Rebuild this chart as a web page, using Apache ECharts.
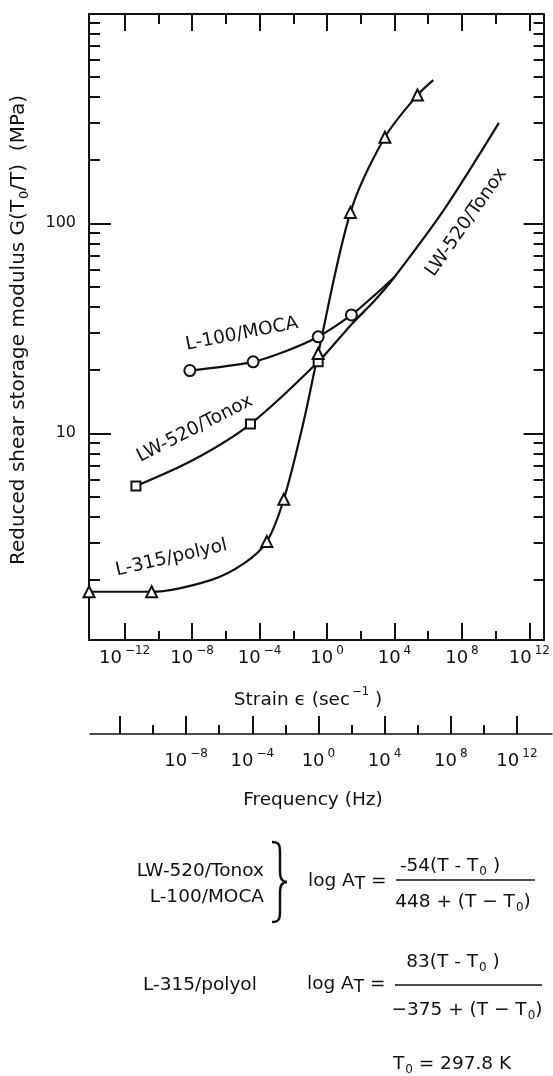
<!DOCTYPE html>
<html>
<head>
<meta charset="utf-8">
<script src="https://cdn.jsdelivr.net/npm/echarts@6/dist/echarts.min.js"></script>
<style>
  html, body { margin: 0; padding: 0; background: #fff; }
  #chart { width: 553px; height: 1076px; }
</style>
</head>
<body>
<div id="chart"></div>
<script>
// Reduced shear storage modulus (MPa) against reduced strain rate (s^-1).
// Marker points of each material
const mocaMarkers   = [[7.4e-9, 19.9], [4.2e-5, 21.9], [0.30, 28.8], [28, 36.6]];
const tonoxMarkers  = [[4.7e-12, 5.61], [2.9e-5, 11.07], [0.30, 21.9]];
const polyolMarkers = [[7.8e-15, 1.76], [4.0e-11, 1.76], [2.7e-4, 3.05], [2.75e-3, 4.85],
                       [0.30, 24.0], [24.5, 112.7], [2.7e3, 257], [2.3e5, 408]];
// Further points along the drawn master curves
const mocaPath   = [[3.2e-3, 24.5], [690, 45.6], [1.0e4, 55.5]];
const tonoxPath  = [[1.15e-8, 7.46], [28, 33.0], [690, 43.0], [1.0e4, 55.5],
                    [8.3e6, 115.6], [1.55e10, 301]];
const polyolPath = [[1.3e-7, 2.0], [1.2e-5, 2.40], [0.037, 10.96], [2.0e6, 481]];

// Curve names, placed at (strain, modulus) with a text angle in degrees
const curveNames = [
  { text: 'L-100/MOCA',   at: [8.9e-6, 29.7],  angle: 11 },
  { text: 'LW-520/Tonox', at: [1.45e-8, 10.5], angle: 27 },
  { text: 'L-315/polyol', at: [6.0e-10, 2.55], angle: 13 },
  { text: 'LW-520/Tonox', at: [1.8e8, 101],    angle: 55 }
];

// Tick exponents (powers of ten)
const strainMajor = [-12, -8, -4, 0, 4, 8, 12];
const strainMinor = [-10, -6, -2, 2, 6, 10];
const freqMajor   = [-12, -8, -4, 0, 4, 8, 12];
const freqLabeled = [-8, -4, 0, 4, 8, 12];
const freqMinor   = [-10, -6, -2, 2, 6, 10];
const modulusMajor = [10, 100];
const modulusMinor = [2, 3, 4, 5, 6, 7, 8, 9, 20, 30, 40, 50, 60, 70, 80, 90,
                      200, 300, 400, 500, 600, 700, 800, 900];

// Axis extents as log10 values
const STRAIN_RANGE  = [-14.11, 12.84];
const MODULUS_RANGE = [0.0157, 2.9967];
const FREQ_RANGE    = [-13.81, 14.12];

const FONT = 'DejaVu Sans';
const INK = '#111';
const lg = Math.log10;

const toLog = pts => pts.map(p => [lg(p[0]), lg(p[1])]);
const curveOf = (markers, extra) => toLog(markers.concat(extra).sort((a, b) => a[0] - b[0]));

function powLabel(v) {
  const e = Math.round(v);
  return '{b|10}{s|' + (e < 0 ? '\u2212' + Math.abs(e) : String(e)) + '}';
}
const powRich = {
  b: { fontFamily: FONT, fontSize: 18, lineHeight: 22, verticalAlign: 'bottom', color: INK },
  s: { fontFamily: FONT, fontSize: 12, lineHeight: 12, verticalAlign: 'top', color: INK, padding: [0, 0, 0, 3] }
};

function tickAxis(grid, position, range, ticks, len, width, opts) {
  const ax = {
    gridIndex: grid, type: 'value', position: position,
    min: range[0], max: range[1],
    axisLine: { show: false, onZero: false, lineStyle: { color: INK, width: width } },
    axisTick: { show: true, inside: true, length: len, customValues: ticks,
                lineStyle: { color: INK, width: width } },
    axisLabel: { show: false },
    splitLine: { show: false }
  };
  return Object.assign(ax, opts || {});
}

const chart = echarts.init(document.getElementById('chart'), null, { renderer: 'canvas' });

const xAxes = [
  tickAxis(0, 'bottom', STRAIN_RANGE, strainMajor, 17, 2, {
    axisLine: { show: true, onZero: false, lineStyle: { color: INK, width: 2 } },
    axisLabel: { show: true, customValues: strainMajor, formatter: powLabel, rich: powRich, margin: 5 }
  }),
  tickAxis(0, 'bottom', STRAIN_RANGE, strainMinor, 9, 2),
  tickAxis(0, 'top', STRAIN_RANGE, strainMajor, 17, 2, {
    axisLine: { show: true, onZero: false, lineStyle: { color: INK, width: 2 } }
  }),
  tickAxis(0, 'top', STRAIN_RANGE, strainMinor, 10, 2),
  tickAxis(1, 'bottom', FREQ_RANGE, freqMajor, 18, 2, {
    axisLine: { show: true, onZero: false, lineStyle: { color: INK, width: 1.5 } },
    axisLabel: { show: true, customValues: freqLabeled, formatter: powLabel, rich: powRich, margin: 14 }
  }),
  tickAxis(1, 'bottom', FREQ_RANGE, freqMinor, 9, 2)
];

const yAxes = [
  tickAxis(0, 'left', MODULUS_RANGE, modulusMajor.map(lg), 22, 2, {
    axisLine: { show: true, onZero: false, lineStyle: { color: INK, width: 2 } },
    axisLabel: { show: true, customValues: modulusMajor.map(lg), margin: 13,
                 formatter: v => String(Math.round(Math.pow(10, v))),
                 fontFamily: FONT, fontSize: 16, color: INK }
  }),
  tickAxis(0, 'left', MODULUS_RANGE, modulusMinor.map(lg), 11, 2),
  tickAxis(0, 'right', MODULUS_RANGE, modulusMajor.map(lg), 20, 2, {
    axisLine: { show: true, onZero: false, lineStyle: { color: INK, width: 2 } }
  }),
  tickAxis(0, 'right', MODULUS_RANGE, modulusMinor.map(lg), 10, 2),
  { gridIndex: 1, type: 'value', show: false, min: 0, max: 1 }
];

const lineSeries = (data) => ({
  type: 'line', xAxisIndex: 0, yAxisIndex: 0, data: data,
  smooth: 0.3, showSymbol: false, symbol: 'none',
  clip: false, silent: true, z: 2,
  lineStyle: { color: INK, width: 2.2 }
});
const markerSeries = (data, symbol, size) => ({
  type: 'scatter', xAxisIndex: 0, yAxisIndex: 0, data: toLog(data),
  symbol: symbol, symbolSize: size, clip: false, silent: true, z: 3,
  itemStyle: { color: '#fff', borderColor: INK, borderWidth: 2, opacity: 1 }
});

const nameSeries = {
  type: 'scatter', xAxisIndex: 0, yAxisIndex: 0, symbolSize: 0, silent: true, z: 4,
  itemStyle: { opacity: 1 },
  data: curveNames.map(c => ({
    value: [lg(c.at[0]), lg(c.at[1])],
    label: { show: true, position: 'inside', formatter: c.text, rotate: c.angle,
             fontFamily: FONT, fontSize: 18.5, color: INK, opacity: 1,
             align: 'center', verticalAlign: 'middle' }
  }))
};

// Text below the plot: axis titles and shift-factor equations
const nText = { fontFamily: FONT, fontSize: 18.5, lineHeight: 24 };
const subZero = { fontFamily: FONT, fontSize: 12, lineHeight: 14, verticalAlign: 'bottom', padding: [0, 0, 0, 1] };
const richEq = { n: nText, z: subZero,
                 t: { fontFamily: FONT, fontSize: 17, lineHeight: 14, verticalAlign: 'bottom' } };

function txt(x, y, text, align, extra) {
  return Object.assign({
    type: 'text', x: x, y: y, silent: true,
    style: { text: text, rich: richEq, fill: INK, align: align || 'center', verticalAlign: 'middle',
             fontFamily: FONT, fontSize: 18.5 }
  }, extra || {});
}
function rule(x1, x2, y) {
  return { type: 'line', silent: true, shape: { x1: x1, y1: y, x2: x2, y2: y },
           style: { stroke: INK, lineWidth: 1.5 } };
}
function stroke(shape, type) {
  return { type: type, silent: true, shape: shape, style: { stroke: INK, lineWidth: 2.5, fill: null } };
}
// Right-pointing curly brace grouping the first two materials
const brace = [
  stroke({ x1: 272, y1: 842, cpx1: 280, cpy1: 842, cpx2: 280, cpy2: 846, x2: 280, y2: 854 }, 'bezierCurve'),
  stroke({ x1: 280, y1: 854, x2: 280, y2: 872 }, 'line'),
  stroke({ x1: 280, y1: 872, cpx1: 280, cpy1: 878, cpx2: 282, cpy2: 882, x2: 287, y2: 882 }, 'bezierCurve'),
  stroke({ x1: 287, y1: 882, cpx1: 282, cpy1: 882, cpx2: 280, cpy2: 886, x2: 280, y2: 892 }, 'bezierCurve'),
  stroke({ x1: 280, y1: 892, x2: 280, y2: 910 }, 'line'),
  stroke({ x1: 280, y1: 910, cpx1: 280, cpy1: 918, cpx2: 280, cpy2: 922, x2: 272, y2: 922 }, 'bezierCurve')
];

const graphics = [
  { type: 'text', x: 19, y: 330, rotation: Math.PI / 2, silent: true,
    style: { text: '{n|Reduced shear storage modulus G(T}{z|0}{n|/T)  (MPa)}', fill: INK,
             align: 'center', verticalAlign: 'middle',
             rich: { n: { fontFamily: FONT, fontSize: 20, lineHeight: 24 },
                     z: { fontFamily: FONT, fontSize: 13, lineHeight: 14, verticalAlign: 'bottom', padding: [0, 0, 0, 1] } } } },
  { type: 'text', x: 308, y: 698, silent: true,
    style: { text: '{n|Strain \u03f5 (sec}{s|\u22121}{n| )}', fill: INK, align: 'center', verticalAlign: 'middle',
             rich: { n: { fontFamily: FONT, fontSize: 18.5, lineHeight: 24, verticalAlign: 'bottom' },
                     s: { fontFamily: FONT, fontSize: 11.5, lineHeight: 14, verticalAlign: 'top', padding: [0, 0, 0, 2] } } } },
  txt(313, 800, '{n|Frequency (Hz)}'),

  txt(264, 871, '{n|LW-520/Tonox}', 'right'),
  txt(264, 897, '{n|L-100/MOCA}', 'right'),
  txt(308, 881, '{n|log A}{t|T}{n| =}', 'left'),
  txt(450, 866, '{n|-54(T - T}{z|0}{n| )}'),
  rule(396, 535, 880),
  txt(463, 902, '{n|448 + (T \u2212 T}{z|0}{n|)}'),

  txt(143, 985, '{n|L-315/polyol}', 'left'),
  txt(307, 984, '{n|log A}{t|T}{n| =}', 'left'),
  txt(453, 962, '{n|83(T - T}{z|0}{n| )}'),
  rule(395, 542, 985),
  txt(467, 1010, '{n|\u2212375 + (T \u2212 T}{z|0}{n|)}'),

  txt(452, 1064, '{n|T}{z|0}{n| = 297.8 K}')
].concat(brace);

chart.setOption({
  animation: false,
  backgroundColor: '#fff',
  grid: [
    { left: 89, right: 1.5, top: 14, bottom: 436, containLabel: false },
    { left: 90, right: 1, top: 700, bottom: 342, containLabel: false }
  ],
  xAxis: xAxes,
  yAxis: yAxes,
  series: [
    lineSeries(curveOf(mocaMarkers, mocaPath)),
    lineSeries(curveOf(tonoxMarkers, tonoxPath)),
    lineSeries(curveOf(polyolMarkers, polyolPath)),
    markerSeries(mocaMarkers, 'circle', 11),
    markerSeries(tonoxMarkers, 'rect', 9),
    markerSeries(polyolMarkers, 'triangle', 11),
    nameSeries
  ],
  graphic: graphics
});
</script>
</body>
</html>
